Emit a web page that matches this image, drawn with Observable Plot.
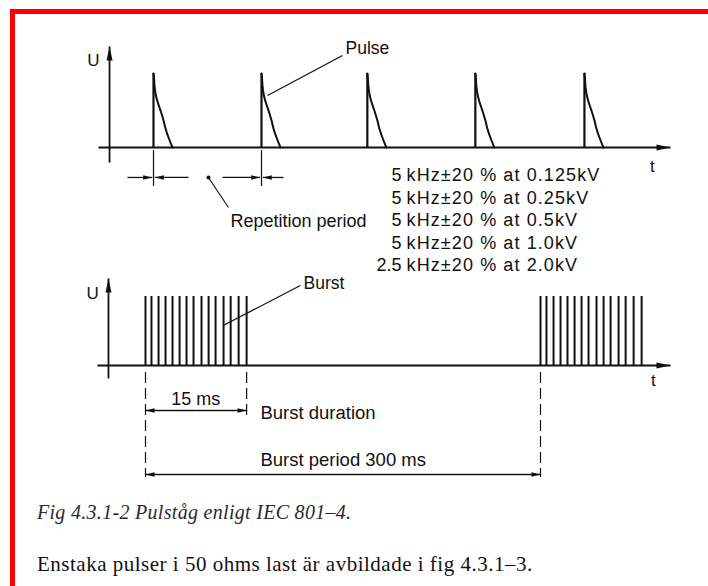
<!DOCTYPE html>
<html><head><meta charset="utf-8">
<script src="https://cdn.jsdelivr.net/npm/d3@7"></script>
<script src="https://cdn.jsdelivr.net/npm/@observablehq/plot@0.6"></script>
<style>
html,body{margin:0;padding:0;background:#fff;}
body{width:708px;height:586px;position:relative;overflow:hidden;font-family:"Liberation Sans",Arial,sans-serif;}
#frameTop{position:absolute;left:10px;top:9px;right:0;height:5px;background:#ff0000;}
#frameLeft{position:absolute;left:10px;top:9px;width:5px;bottom:0;background:#ff0000;}
#upper{position:absolute;left:0;top:0;}
#lower{position:absolute;left:0;top:276px;}
.cap{position:absolute;left:37px;font-family:"Liberation Serif","Times New Roman",serif;white-space:nowrap;}
#cap1{top:502px;font-style:italic;font-size:20px;line-height:20px;letter-spacing:0.3px;color:#2a2a2a;}
#cap2{top:554px;font-size:21px;line-height:21px;letter-spacing:0.5px;color:#111;}
</style></head><body>
<div id="frameTop"></div><div id="frameLeft"></div>
<div id="upper"></div>
<div id="lower"></div>
<div class="cap" id="cap1">Fig 4.3.1-2 Pulståg enligt IEC 801–4.</div>
<div class="cap" id="cap2">Enstaka pulser i 50 ohms last är avbildade i fig 4.3.1–3.</div>
<script>
// ---------- DATA ----------
// Upper diagram: single pulses, time in repetition periods, U normalised to peak
const pulseStarts = [0, 1, 1.98, 2.98, 3.99];
const pulseDecayT = [0, 0.005, 0.0093, 0.0185, 0.037, 0.065, 0.093, 0.111, 0.139, 0.176];
const pulseDecayU = [1, 0.93, 0.838, 0.730, 0.622, 0.500, 0.365, 0.257, 0.135, 0];
const specFreq = ["5", "5", "5", "5", "2.5"];
const specTol = ["kHz±20 % at 0.125kV", "kHz±20 % at 0.25kV", "kHz±20 % at 0.5kV", "kHz±20 % at 1.0kV", "kHz±20 % at 2.0kV"];
const upperLabels = ["U", "t", "Pulse", "Repetition period"];
// Lower diagram: bursts, time in burst periods
const burstStarts = [0, 1];
const burstDuration = 0.256;           // 15 ms (drawn schematically)
const burstPulseFrac = [0, 0.059, 0.129, 0.198, 0.267, 0.337, 0.406, 0.475, 0.554, 0.624, 0.693, 0.772, 0.842, 0.921, 1.0];
const lowerLabels = ["U", "t", "Burst", "15 ms", "Burst duration", "Burst period 300 ms"];

// ---------- helpers ----------
const ink = "#111";
const font = "Liberation Sans, Arial, sans-serif";
const headFor = (len, wid) => ({draw(ctx){ctx.moveTo(0,0);ctx.lineTo(wid/2,len);ctx.lineTo(-wid/2,len);ctx.closePath();}});
const axisHead = headFor(14, 6);
const dimHead = headFor(9, 4.5);
const UP = 0, RIGHT = 90, DOWN = 180, LEFT = 270;

// ---------- UPPER ----------
const uAxes = [
  {x1:-0.407, y1:-0.203, x2:-0.407, y2:1.365, rot:UP},
  {x1:-0.509, y1:0, x2:4.787, y2:0, rot:RIGHT}
];
const pulsePts = pulseStarts.flatMap((s, i) => pulseDecayT.map((t, j) => ({p:i, t:s + t, u:pulseDecayU[j]})));
const dimY = -0.405;
const uDim = [
  {x1:-0.241, x2:-0.012, rot:RIGHT},
  {x1:0.324, x2:0.012, rot:LEFT},
  {x1:0.639, x2:0.988, rot:RIGHT},
  {x1:1.204, x2:1.012, rot:LEFT}
];
const specRows = specFreq.map((f, i) => ({f, txt:specTol[i], y:(147 - 175 - 22.5 * i) / 74}));

const upper = Plot.plot({
  width:708, height:276, margin:0,
  style:{background:"transparent", overflow:"visible"},
  x:{axis:null, domain:[0,4], range:[153,585]},
  y:{axis:null, domain:[0,1], range:[147,73]},
  marks:[
    Plot.link(uAxes, {x1:"x1", y1:"y1", x2:"x2", y2:"y2", stroke:ink, strokeWidth:1.8}),
    Plot.dot(uAxes, {x:"x2", y:"y2", rotate:"rot", symbol:axisHead, fill:ink, stroke:"none"}),
    // pulses: fast rise + decay
    Plot.ruleX(pulseStarts, {x:d => d, y1:() => 0, y2:() => 1, stroke:ink, strokeWidth:2.2}),
    Plot.line(pulsePts, {x:"t", y:"u", z:"p", stroke:ink, strokeWidth:2, curve:"catmull-rom"}),
    // repetition-period dimension
    Plot.ruleX([pulseStarts[0], pulseStarts[1]], {x:d => d, y1:() => -0.041, y2:() => -0.527, stroke:ink, strokeWidth:1.2}),
    Plot.link(uDim, {x1:"x1", x2:"x2", y1:() => dimY, y2:() => dimY, stroke:ink, strokeWidth:1.3}),
    Plot.dot(uDim, {x:"x2", y:() => dimY, rotate:"rot", symbol:dimHead, fill:ink, stroke:"none"}),
    Plot.dot([0], {x:() => 0.509, y:() => dimY, r:2, fill:ink}),
    Plot.link([0], {x1:() => 0.509, y1:() => dimY, x2:() => 0.694, y2:() => -0.811, stroke:ink, strokeWidth:1.1}),
    // pulse leader
    Plot.link([0], {x1:() => 1.75, y1:() => 1.243, x2:() => 1.056, y2:() => 0.703, stroke:ink, strokeWidth:1.2}),
    // labels
    Plot.text([upperLabels[0]], {x:() => -0.556, y:() => 1.176, text:d => d, fontSize:17, fontFamily:font, fill:ink}),
    Plot.text([upperLabels[1]], {x:() => 4.62, y:() => -0.257, text:d => d, fontSize:17, fontFamily:font, fill:ink}),
    Plot.text([upperLabels[2]], {x:() => 1.778, y:() => 1.338, text:d => d, textAnchor:"start", fontSize:17.5, fontFamily:font, fill:ink}),
    Plot.text([upperLabels[3]], {x:() => 0.713, y:() => -1.0, text:d => d, textAnchor:"start", fontSize:18, fontFamily:font, fill:ink}),
    Plot.text(specRows, {x:() => 2.296, y:"y", text:"f", textAnchor:"end", fontSize:18, fontFamily:font, fill:ink}),
    Plot.text(specRows, {x:() => 2.343, y:"y", text:"txt", textAnchor:"start", fontSize:18, fontFamily:font, fill:ink})
  ]
});
// widen the tracking of the specification lines, as in the original print
upper.querySelectorAll("text").forEach(t => { if (specTol.includes(t.textContent)) t.style.letterSpacing = "1.1px"; });
document.getElementById("upper").append(upper);

// ---------- LOWER ----------
const lAxes = [
  {x1:-0.0937, y1:-0.188, x2:-0.0937, y2:1.261, rot:UP},
  {x1:-0.1215, y1:0, x2:1.329, y2:0, rot:RIGHT}
];
const burstPulses = burstStarts.flatMap(s => burstPulseFrac.map(f => ({t:s + f * burstDuration})));
const dashed = [
  {x:burstStarts[0], y2:-1.623},
  {x:burstStarts[0] + burstDuration, y2:-0.725},
  {x:burstStarts[1], y2:-1.623}
];
const durY = -0.652, perY = -1.580;
const lDim = [
  {x1:burstDuration / 2, x2:0, y:durY, rot:LEFT},
  {x1:burstDuration / 2, x2:burstDuration, y:durY, rot:RIGHT},
  {x1:0.5, x2:0, y:perY, rot:LEFT},
  {x1:0.5, x2:1, y:perY, rot:RIGHT}
];

const lower = Plot.plot({
  width:708, height:214, margin:0,
  style:{background:"transparent", overflow:"visible"},
  x:{axis:null, domain:[0,1], range:[145,540]},
  y:{axis:null, domain:[0,1], range:[89,20]},
  marks:[
    Plot.link(lAxes, {x1:"x1", y1:"y1", x2:"x2", y2:"y2", stroke:ink, strokeWidth:1.8}),
    Plot.dot(lAxes, {x:"x2", y:"y2", rotate:"rot", symbol:axisHead, fill:ink, stroke:"none"}),
    Plot.ruleX(burstPulses, {x:"t", y1:() => 0, y2:() => 1, stroke:ink, strokeWidth:2}),
    Plot.ruleX(dashed, {x:"x", y1:() => -0.101, y2:"y2", stroke:ink, strokeWidth:1.2, strokeDasharray:"11,5"}),
    Plot.link(lDim, {x1:"x1", x2:"x2", y1:"y", y2:"y", stroke:ink, strokeWidth:1.3}),
    Plot.dot(lDim, {x:"x2", y:"y", rotate:"rot", symbol:dimHead, fill:ink, stroke:"none"}),
    Plot.link([0], {x1:() => 0.392, y1:() => 1.159, x2:() => 0.197, y2:() => 0.580, stroke:ink, strokeWidth:1.2}),
    Plot.text([lowerLabels[0]], {x:() => -0.134, y:() => 1.043, text:d => d, fontSize:17, fontFamily:font, fill:ink}),
    Plot.text([lowerLabels[1]], {x:() => 1.286, y:() => -0.217, text:d => d, fontSize:17, fontFamily:font, fill:ink}),
    Plot.text([lowerLabels[2]], {x:() => 0.40, y:() => 1.188, text:d => d, textAnchor:"start", fontSize:17.5, fontFamily:font, fill:ink}),
    Plot.text([lowerLabels[3]], {x:() => 0.127, y:() => -0.493, text:d => d, fontSize:18, fontFamily:font, fill:ink}),
    Plot.text([lowerLabels[4]], {x:() => 0.291, y:() => -0.696, text:d => d, textAnchor:"start", fontSize:18.5, fontFamily:font, fill:ink}),
    Plot.text([lowerLabels[5]], {x:() => 0.291, y:() => -1.377, text:d => d, textAnchor:"start", fontSize:18.5, fontFamily:font, fill:ink})
  ]
});
document.getElementById("lower").append(lower);
</script>
</body></html>
